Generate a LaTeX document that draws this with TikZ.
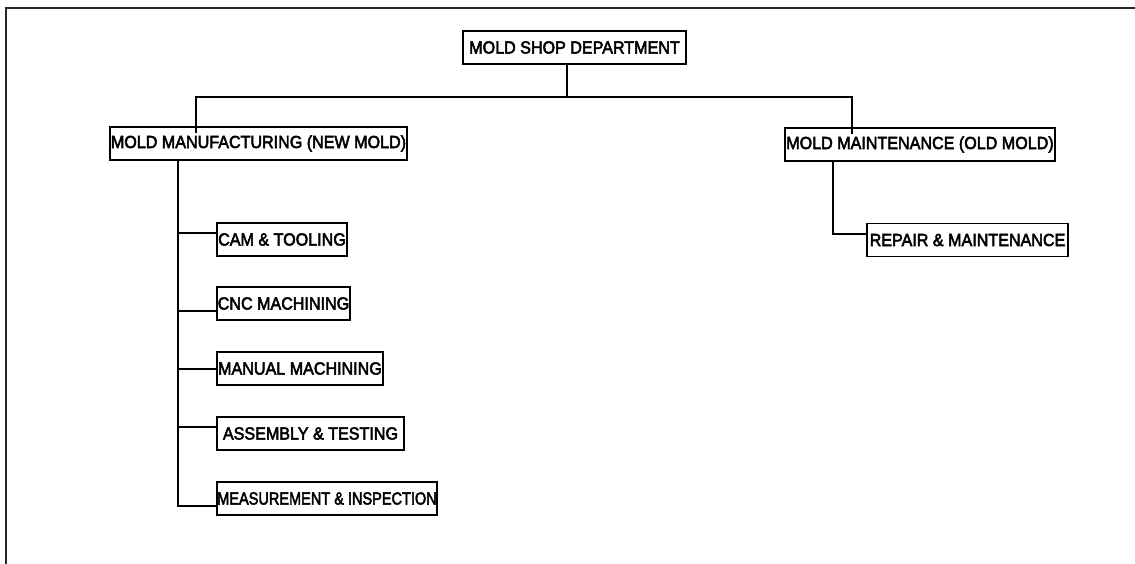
\documentclass[tikz,border=0pt]{standalone}
\usepackage{fontspec}
\setmainfont{Liberation Sans}
\font\lblfont="Liberation Sans:embolden=3" at 17.5pt
\newcommand\lbltxt[2][0.92]{\scalebox{#1}[1]{\lblfont #2}}
\begin{document}
\begin{tikzpicture}[x=1pt,y=-1pt,
  box/.style={draw=black,line width=1.6pt,rectangle,inner xsep=0pt,inner ysep=0pt,minimum height=33pt,text=black},
  conn/.style={draw=black,line width=2pt},
  frame/.style={draw=black!85,line width=2.8pt}]
\useasboundingbox (0,0) rectangle (1135,564);
\draw[frame] (6,564) -- (6,8) -- (1135,8);
\node[box,minimum width=223pt] (top) at (574.5,47.5) {\lbltxt{MOLD SHOP DEPARTMENT}};
\node[box,minimum width=297pt] (mfg) at (258.5,143.5) {\lbltxt{MOLD MANUFACTURING (NEW MOLD)}};
\node[box,minimum width=270pt] (mnt) at (920,144.5) {\lbltxt{MOLD MAINTENANCE (OLD MOLD)}};
\node[box,minimum width=201pt] (rep) at (967.5,240) {\lbltxt{REPAIR \& MAINTENANCE}};
\node[box,minimum width=130pt] (cam) at (282,239.5) {\lbltxt{CAM \& TOOLING}};
\node[box,minimum width=133pt] (cnc) at (283.5,303.5) {\lbltxt{CNC MACHINING}};
\node[box,minimum width=166pt] (man) at (300,368.5) {\lbltxt{MANUAL MACHINING}};
\node[box,minimum width=187pt] (asm) at (310.5,433.5) {\lbltxt{ASSEMBLY \& TESTING}};
\node[box,minimum width=220pt] (mea) at (327,498.5) {\lbltxt[0.83]{MEASUREMENT \& INSPECTION}};
\coordinate (bM) at (567,97);
\coordinate (bL) at (196,97);
\coordinate (bR) at (852,97);
\coordinate (tL) at (178,0);
\coordinate (tR) at (833,0);
\draw[conn] (bM |- top.south) -- (bM);
\draw[conn] ([yshift=-7pt]bL |- mfg.north) -- (bL) -- (bR) -- ([yshift=-7pt]bR |- mnt.north);
\draw[conn] (tL |- mfg.south) |- ([yshift=-7.5pt]mea.west);
\draw[conn] ([yshift=6.5pt]cam.west -| tL) -- ([yshift=6.5pt]cam.west);
\draw[conn] ([yshift=-7.5pt]cnc.west -| tL) -- ([yshift=-7.5pt]cnc.west);
\draw[conn] (man.west -| tL) -- (man.west);
\draw[conn] ([yshift=6.5pt]asm.west -| tL) -- ([yshift=6.5pt]asm.west);
\draw[conn] (tR |- mnt.south) |- ([yshift=6pt]rep.west);
\end{tikzpicture}
\end{document}
